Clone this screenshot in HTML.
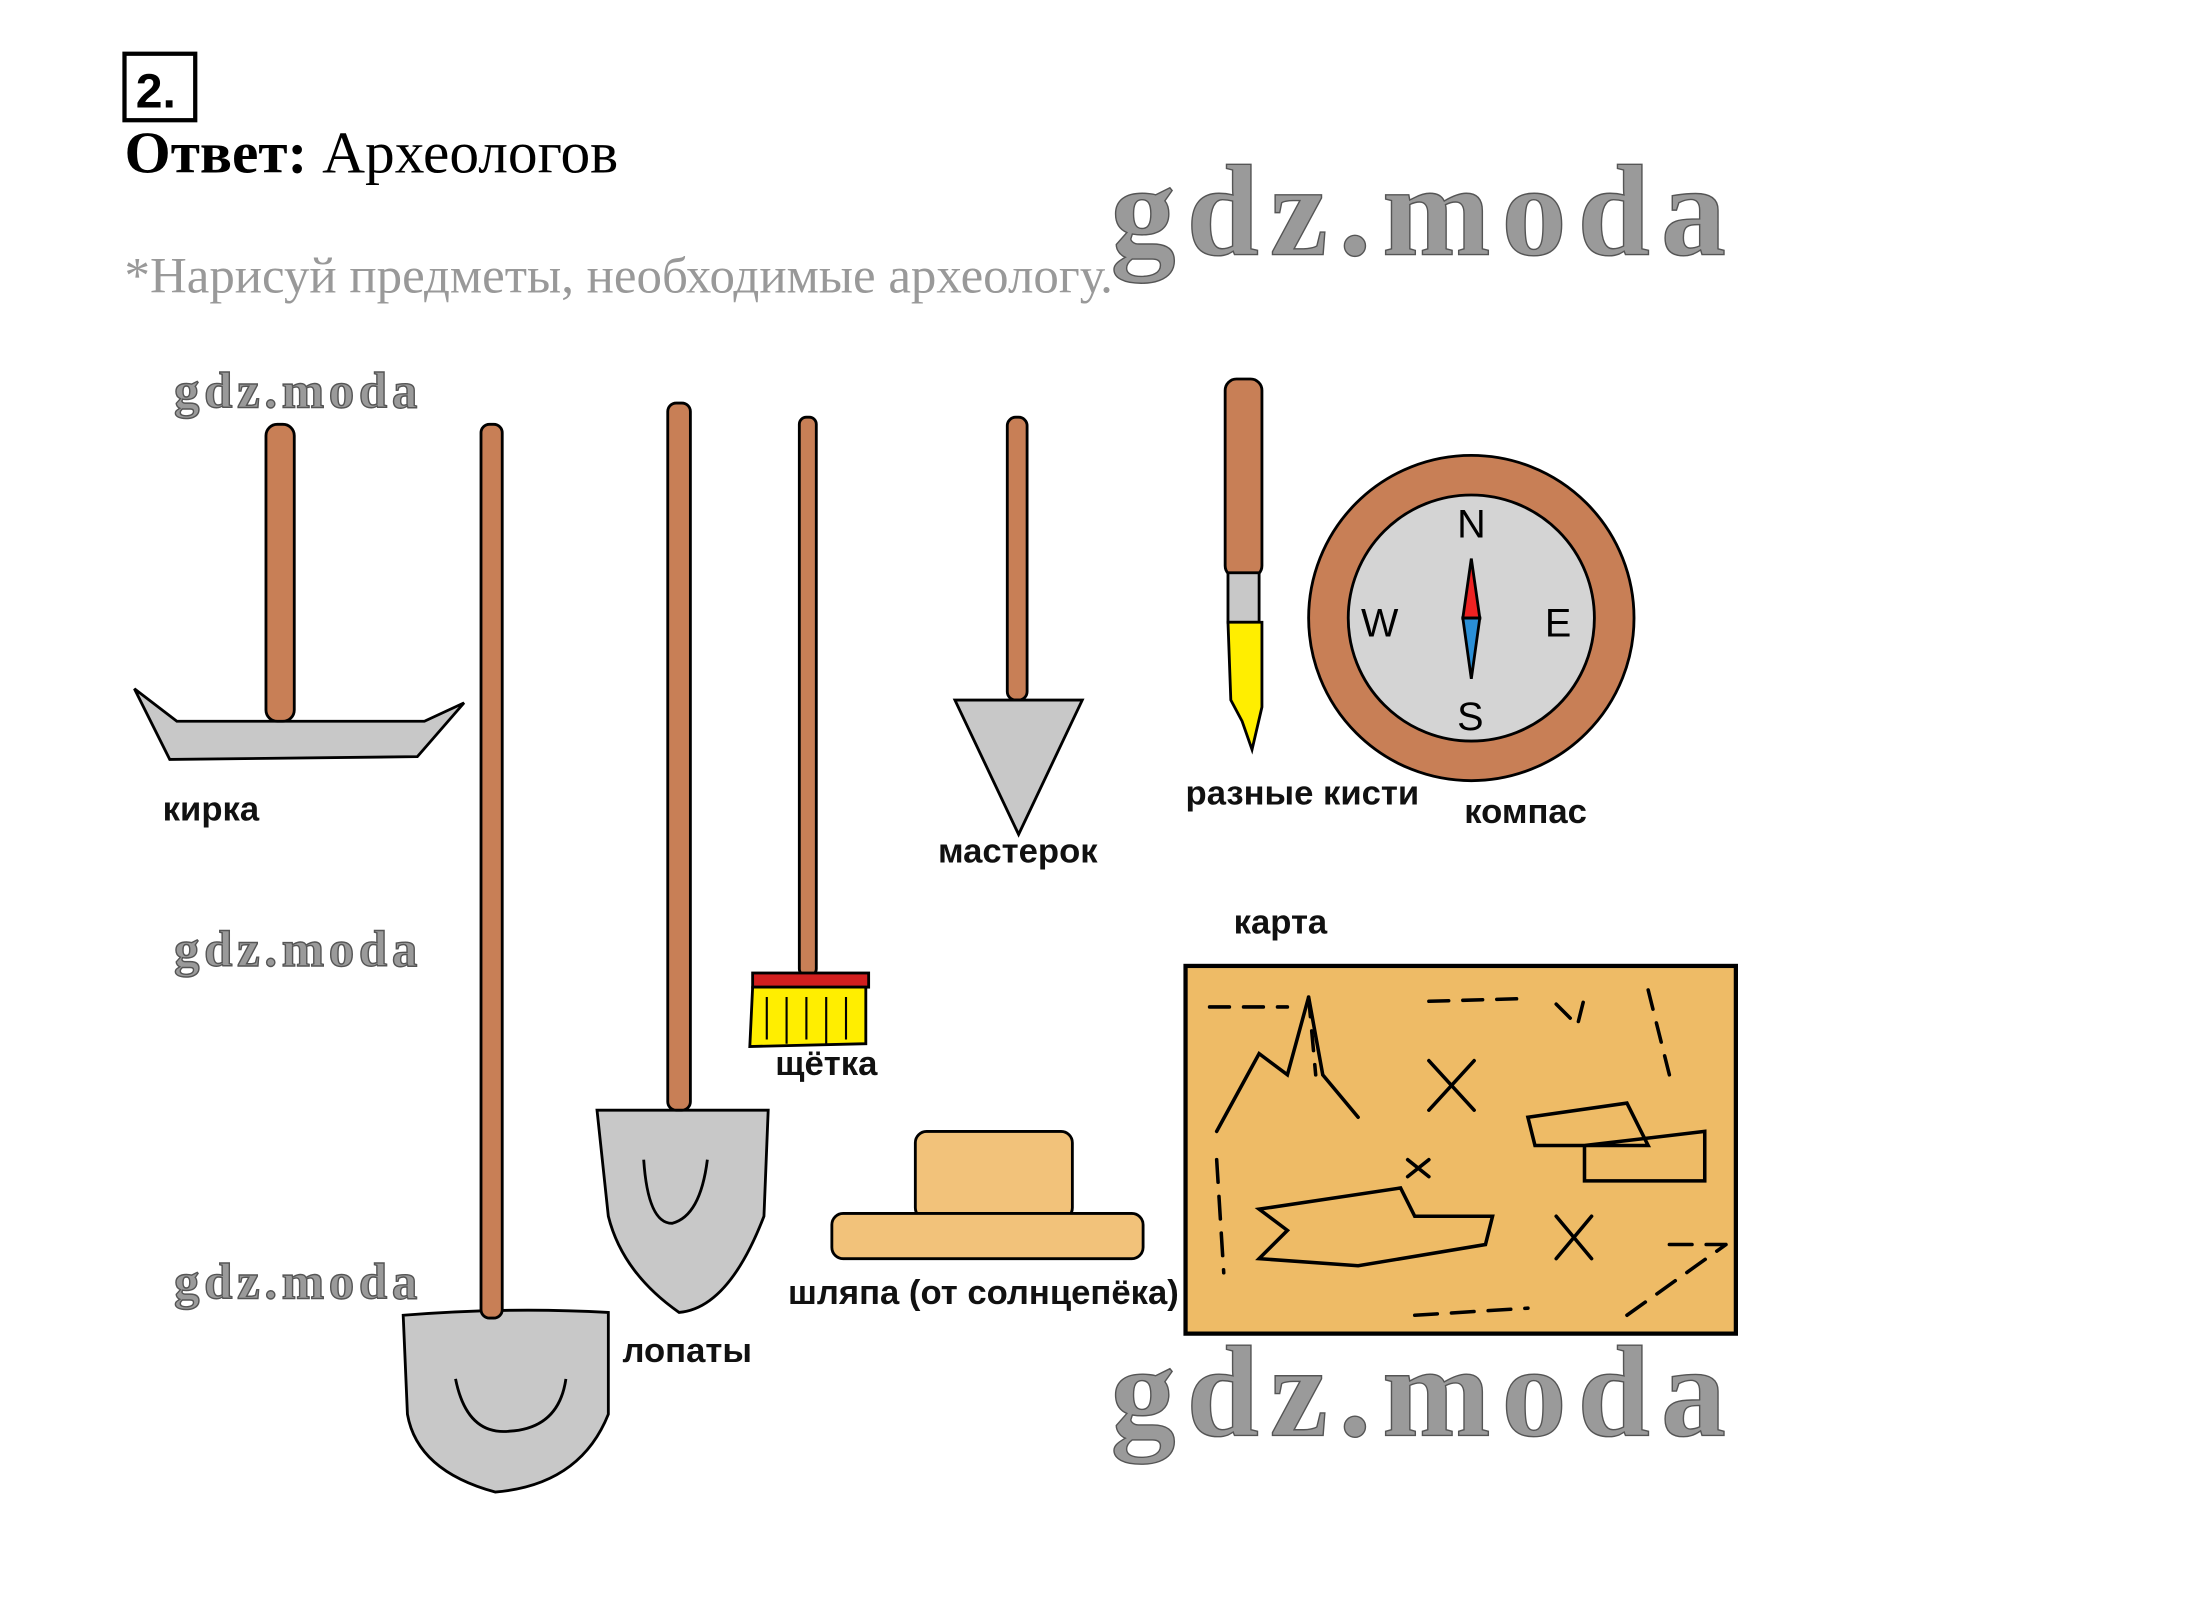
<!DOCTYPE html>
<html><head><meta charset="utf-8"><style>
html,body{margin:0;padding:0;background:#fff;}
svg{display:block;}
.lbl{font-family:"Liberation Sans","DejaVu Sans",sans-serif;font-weight:bold;font-size:24.5px;fill:#111;}
.wm{font-family:"Liberation Serif",serif;font-weight:bold;fill:#9a9a9a;stroke:#555;stroke-width:1;}
</style></head><body>
<svg width="2190" height="1608" viewBox="0 0 1548 1137" preserveAspectRatio="none" xmlns="http://www.w3.org/2000/svg">
<rect x="88" y="38" width="50" height="47" fill="none" stroke="#000" stroke-width="3"/>
<text x="96" y="76" font-family="Liberation Sans,sans-serif" font-weight="bold" font-size="34">2.</text>
<text x="88" y="122" font-family="Liberation Serif,serif" font-size="42"><tspan font-weight="bold">Ответ:</tspan> Археологов</text>
<text x="88" y="207" font-family="Liberation Serif,serif" font-size="36" fill="#999">*Нарисуй предметы, необходимые археологу.</text>
<text class="wm" x="785" y="180" font-size="92" textLength="435">gdz.moda</text>
<text class="wm" x="785" y="1015" font-size="92" textLength="435">gdz.moda</text>
<text class="wm" x="123" y="288" font-size="36" textLength="172">gdz.moda</text>
<text class="wm" x="123" y="683" font-size="36" textLength="172">gdz.moda</text>
<text class="wm" x="123" y="918" font-size="36" textLength="172">gdz.moda</text>

<g stroke="#000" stroke-width="2">
<path d="M95,487 L125,510 L300,510 L328,497 L295,535 L120,537 Z" fill="#c8c8c8"/>
<rect x="188" y="300" width="20" height="210" rx="8" fill="#c87f56"/>
<path d="M285,930 Q360,924 430,928 L430,1000 Q410,1050 350,1055 Q295,1040 288,1000 Z" fill="#c8c8c8"/>
<path d="M322,975 Q330,1015 360,1012 Q395,1010 400,975" fill="none"/>
<rect x="340" y="300" width="15" height="632" rx="6" fill="#c87f56"/>
<path d="M422,785 L543,785 L540,860 Q515,925 480,928 Q440,900 430,860 Z" fill="#c8c8c8"/>
<path d="M455,820 Q458,865 475,865 Q495,860 500,820" fill="none"/>
<rect x="472" y="285" width="16" height="500" rx="6" fill="#c87f56"/>
<rect x="565" y="295" width="12" height="395" rx="5" fill="#c87f56"/>
<rect x="532" y="688" width="82" height="10" fill="#d21f1f"/>
<path d="M532,698 L612,698 L612,738 L530,740 Z" fill="#ffee00"/>
<path d="M542,705 L542,735 M556,705 L556,738 M570,705 L570,735 M584,705 L584,738 M598,705 L598,735" fill="none" stroke-width="1.5"/>
<rect x="712" y="295" width="14" height="200" rx="6" fill="#c87f56"/>
<path d="M675,495 L765,495 L720,590 Z" fill="#c8c8c8"/>
<rect x="866" y="268" width="26" height="140" rx="8" fill="#c87f56"/>
<rect x="868" y="405" width="22" height="35" fill="#c8c8c8"/>
<path d="M868,440 L892,440 L892,500 L885,530 L878,510 L870,495 Z" fill="#ffee00"/>
<circle cx="1040" cy="437" r="115" fill="#c87f56"/>
<circle cx="1040" cy="437" r="87" fill="#d4d4d4"/>
<path d="M1040,395 L1046,437 L1034,437 Z" fill="#e22"/>
<path d="M1034,437 L1046,437 L1040,480 Z" fill="#2a8fd6"/>
</g>
<g font-family="Liberation Sans,sans-serif" font-size="28" fill="#000">
<text x="1030" y="380">N</text><text x="1030" y="516">S</text>
<text x="962" y="450">W</text><text x="1092" y="450">E</text>
</g>
<g stroke="#000" stroke-width="2" fill="#f2c27a">
<rect x="647" y="800" width="111" height="62" rx="8"/>
<rect x="588" y="858" width="220" height="32" rx="8"/>
</g>
<rect x="838" y="683" width="389" height="260" fill="#eebb66" stroke="#000" stroke-width="3"/>
<g fill="none" stroke="#000" stroke-width="2.5" stroke-linecap="round">
<path d="M855,712 L910,712 M925,705 L930,760 M1010,708 L1080,706 M1100,710 L1115,725 L1120,705 M1165,700 L1180,760" stroke-dasharray="14 10"/>
<path d="M860,800 L890,745 L910,760 L925,705 L935,760 L960,790"/>
<path d="M1010,750 L1042,785 M1042,750 L1010,785"/>
<path d="M1080,790 L1150,780 L1165,810 L1085,810 Z M1120,810 L1205,800 L1205,835 L1120,835 Z"/>
<path d="M995,820 L1010,832 M1010,820 L995,832 M1100,860 L1125,890 M1125,860 L1100,890"/>
<path d="M890,855 L990,840 L1000,860 L1055,860 L1050,880 L960,895 L890,890 L910,870 Z"/>
<path d="M860,820 L865,900 M1180,880 L1220,880 M1000,930 L1080,925 M1150,930 L1220,880" stroke-dasharray="16 10"/>
</g>
<text class="lbl" x="115" y="580">кирка</text>
<text class="lbl" x="440" y="963">лопаты</text>
<text class="lbl" x="548" y="760">щётка</text>
<text class="lbl" x="663" y="610">мастерок</text>
<text class="lbl" x="838" y="569">разные кисти</text>
<text class="lbl" x="1035" y="582">компас</text>
<text class="lbl" x="872" y="660">карта</text>
<text class="lbl" x="557" y="922">шляпа (от солнцепёка)</text>
</svg>
</body></html>
